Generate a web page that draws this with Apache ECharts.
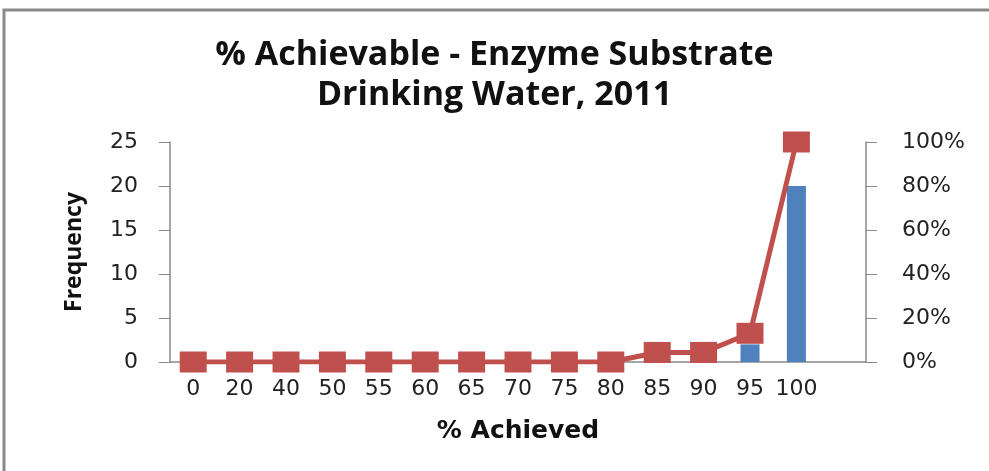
<!DOCTYPE html>
<html><head><meta charset="utf-8">
<script src="https://cdn.jsdelivr.net/npm/echarts@6/dist/echarts.min.js"></script>
<style>html,body{margin:0;padding:0;background:#fff}#c{width:989px;height:471px}</style>
</head><body><div id="c"></div>
<script>
const categories = ['0','20','40','50','55','60','65','70','75','80','85','90','95','100',''];
const frequency = [0,0,0,0,0,0,0,0,0,0,1,0,2,20,0];
const cumulativePct = [0,0,0,0,0,0,0,0,0,0,4.35,4.35,13.04,100,null];
const leftTicks = [0,5,10,15,20,25];
const rightTicks = [0,20,40,60,80,100];

const chart = echarts.init(document.getElementById('c'));
const labelFont = {fontFamily:'DejaVu Sans', fontSize:22, color:'#222'};
chart.setOption({
  animation:false,
  graphic:[{type:'rect', shape:{x:4,y:10,width:1000,height:480}, style:{fill:'none', stroke:'#8a8a8a', lineWidth:3}}],
  title:{text:'% Achievable - Enzyme Substrate\nDrinking Water, 2011', left:'center', top:30,
    textStyle:{fontFamily:'Open Sans', fontWeight:'bold', fontSize:34, lineHeight:40, color:'#111'}},
  grid:{left:170, right:123, top:142, bottom:109},
  xAxis:{type:'category', data:categories, boundaryGap:true,
    name:'% Achieved', nameLocation:'middle', nameGap:57,
    nameTextStyle:{fontFamily:'DejaVu Sans', fontWeight:'bold', fontSize:25, color:'#111'},
    axisLine:{lineStyle:{color:'#888', width:1.5}},
    axisTick:{alignWithLabel:false, length:6, lineStyle:{color:'#888'}},
    axisLabel:Object.assign({margin:16, interval:0}, labelFont)},
  yAxis:[{type:'value', min:0, max:25, interval:5,
    name:'Frequency', nameLocation:'middle', nameGap:84, nameRotate:90,
    nameTextStyle:{fontFamily:'Open Sans', fontWeight:'bold', fontSize:23, color:'#111'},
    axisLine:{show:true, lineStyle:{color:'#888', width:1.5}},
    axisTick:{show:true, length:11, lineStyle:{color:'#888'}},
    splitLine:{show:false},
    axisLabel:Object.assign({margin:32}, labelFont)},
   {type:'value', min:0, max:100, interval:20, position:'right',
    axisLine:{show:true, lineStyle:{color:'#888', width:1.5}},
    axisTick:{show:true, length:11, lineStyle:{color:'#888'}},
    splitLine:{show:false},
    axisLabel:Object.assign({margin:36, formatter:'{value}%'}, labelFont)}],
  series:[
    {type:'bar', data:frequency, yAxisIndex:0, barWidth:'41%', itemStyle:{color:'#4F81BD'}},
    {type:'line', data:cumulativePct, yAxisIndex:1, symbol:'rect', symbolSize:[27,21],
     lineStyle:{color:'#C0504D', width:5}, itemStyle:{color:'#C0504D', borderRadius:3}}
  ]
});
</script></body></html>
